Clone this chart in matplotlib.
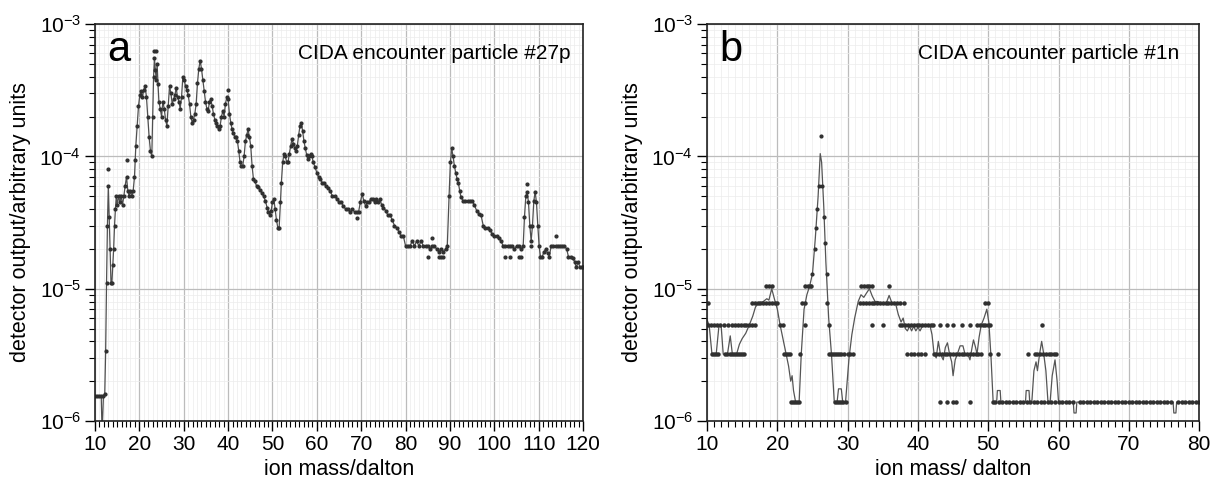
import numpy as np
import matplotlib
matplotlib.use('Agg')
import matplotlib.pyplot as plt
from matplotlib.ticker import MultipleLocator, LogLocator

plt.rcParams['font.family'] = ['Liberation Sans', 'DejaVu Sans']
plt.rcParams['mathtext.default'] = 'regular'
plt.rcParams['axes.unicode_minus'] = False

# ---- panel a : particle #27p (line through samples) ----
mass_a = [10.0, 10.5, 11.0, 11.4, 11.6, 11.9, 12.2, 12.4, 12.6, 12.8, 13.0, 13.2, 13.4, 13.6, 13.8,
          14.0, 14.2, 14.4, 14.6, 14.8, 15.0, 15.3, 15.6, 15.9, 16.2, 16.5, 16.8, 17.1, 17.4, 17.7,
          18.0, 18.3, 18.6, 18.9, 19.2, 19.5, 19.8, 20.1, 20.4, 20.7, 21.0, 21.3, 21.6, 21.9, 22.2,
          22.5, 22.8, 23.0, 23.2, 23.4, 23.6, 23.8, 24.0, 24.2, 24.4, 24.7, 25.0, 25.3, 25.6, 25.9,
          26.2, 26.5, 26.8, 27.1, 27.4, 27.7, 28.0, 28.3, 28.6, 28.9, 29.2, 29.5, 29.8, 30.1, 30.4,
          30.7, 31.0, 31.3, 31.6, 31.9, 32.2, 32.5, 32.8, 33.1, 33.4, 33.7, 34.0, 34.3, 34.6, 34.9,
          35.2, 35.5, 35.8, 36.1, 36.4, 36.7, 37.0, 37.3, 37.6, 37.9, 38.2, 38.5, 38.8, 39.1, 39.4,
          39.7, 40.0, 40.3, 40.6, 40.9, 41.2, 41.5, 41.8, 42.1, 42.4, 42.7, 43.0, 43.3, 43.6, 43.9,
          44.2, 44.5, 44.8, 45.1, 45.4, 45.7, 46.0, 46.4, 46.8, 47.2, 47.6, 48.0, 48.4, 48.8, 49.1,
          49.4, 49.7, 50.0, 50.3, 50.6, 50.9, 51.2, 51.5, 51.8, 52.0, 52.3, 52.6, 52.9, 53.2, 53.5,
          53.8, 54.1, 54.4, 54.7, 55.0, 55.3, 55.6, 55.9, 56.2, 56.5, 56.8, 57.1, 57.4, 57.7, 58.0,
          58.3, 58.6, 58.9, 59.2, 59.6, 60.0, 60.4, 60.8, 61.2, 61.6, 62.0, 62.5, 63.0, 63.5, 64.0,
          64.5, 65.0, 65.5, 66.0, 66.5, 67.0, 67.5, 68.0, 68.5, 69.0, 69.4, 69.8, 70.2, 70.6, 71.0,
          71.4, 71.8, 72.2, 72.6, 73.0, 73.4, 73.8, 74.2, 74.6, 75.0, 75.5, 76.0, 76.5, 77.0, 77.5,
          78.0, 78.5, 79.0, 79.5, 80.0, 80.5, 81.0, 81.5, 82.0, 82.5, 83.0, 83.5, 84.0, 84.5, 85.0,
          85.5, 86.0, 86.5, 87.0, 87.5, 88.0, 88.5, 89.0, 89.4, 89.8, 90.1, 90.4, 90.7, 91.0, 91.3,
          91.6, 91.9, 92.2, 92.5, 93.0, 93.5, 94.0, 94.5, 95.0, 95.5, 96.0, 96.5, 97.0, 97.5, 98.0,
          98.5, 99.0, 99.5, 100.0, 100.5, 101.0, 101.5, 102.0, 102.5, 103.0, 103.5, 104.0, 104.5, 105.0,
          105.5, 106.0, 106.5, 106.8, 107.1, 107.4, 107.7, 108.0, 108.3, 108.6, 108.9, 109.2, 109.5, 109.8,
          110.1, 110.4, 110.8, 111.2, 111.6, 112.0, 112.4, 112.8, 113.3, 113.8, 114.3, 114.8, 115.3, 115.8,
          116.3, 116.7, 117.2, 117.7, 118.1, 118.5, 118.9, 119.3, 119.7, 120.0]
signal_a = [1.55e-6, 1.55e-6, 1.55e-6, 1.55e-6, 8e-7, 1.55e-6, 1.6e-6, 3.4e-6, 1.1e-5, 3.0e-5, 6.0e-5, 3.5e-5, 2.0e-5, 1.1e-5, 1.1e-5,
            1.5e-5, 2.0e-5, 3.0e-5, 4.0e-5, 5.0e-5, 4.3e-5, 5.0e-5, 4.5e-5, 5.0e-5, 4.3e-5, 5.0e-5, 6.0e-5, 7.0e-5, 5.5e-5, 5.0e-5,
            5.5e-5, 5.0e-5, 5.5e-5, 7.0e-5, 1.2e-4, 1.7e-4, 2.4e-4, 2.9e-4, 3.1e-4, 2.8e-4, 3.2e-4, 3.4e-4, 2.8e-4, 2.0e-4, 1.4e-4,
            1.1e-4, 1.0e-4, 2.0e-4, 4.0e-4, 5.5e-4, 4.5e-4, 3.8e-4, 5.0e-4, 3.5e-4, 2.6e-4, 2.3e-4, 2.0e-4, 2.6e-4, 2.3e-4, 1.9e-4,
            1.7e-4, 2.4e-4, 3.4e-4, 3.0e-4, 2.5e-4, 2.7e-4, 2.9e-4, 3.3e-4, 2.8e-4, 2.6e-4, 2.3e-4, 2.8e-4, 4.0e-4, 3.8e-4, 3.4e-4,
            3.2e-4, 2.9e-4, 2.5e-4, 2.0e-4, 1.8e-4, 1.9e-4, 2.1e-4, 2.5e-4, 3.6e-4, 4.6e-4, 5.3e-4, 4.6e-4, 3.8e-4, 3.1e-4, 2.6e-4,
            2.3e-4, 2.2e-4, 2.6e-4, 2.7e-4, 2.4e-4, 2.1e-4, 1.9e-4, 1.8e-4, 1.7e-4, 1.6e-4, 1.7e-4, 2.0e-4, 2.2e-4, 2.0e-4, 2.5e-4,
            2.8e-4, 2.7e-4, 2.1e-4, 1.8e-4, 1.6e-4, 1.5e-4, 1.4e-4, 1.4e-4, 1.3e-4, 1.1e-4, 9.0e-5, 8.5e-5, 8.5e-5, 1.0e-4, 1.3e-4,
            1.45e-4, 1.6e-4, 1.4e-4, 1.2e-4, 8.5e-5, 6.8e-5, 6.5e-5, 6.0e-5, 5.9e-5, 5.6e-5, 5.3e-5, 5.0e-5, 4.6e-5, 4.1e-5, 3.8e-5,
            3.6e-5, 3.9e-5, 4.5e-5, 4.8e-5, 4.0e-5, 3.3e-5, 2.9e-5, 2.9e-5, 4.5e-5, 6.3e-5, 9.0e-5, 1.05e-4, 1.0e-4, 9.0e-5, 9.0e-5,
            1.05e-4, 1.2e-4, 1.35e-4, 1.25e-4, 1.15e-4, 1.1e-4, 1.2e-4, 1.45e-4, 1.7e-4, 1.8e-4, 1.55e-4, 1.3e-4, 1.15e-4, 1.03e-4, 9.5e-5,
            1.0e-4, 1.05e-4, 1.0e-4, 9.0e-5, 8.3e-5, 7.5e-5, 7.0e-5, 6.8e-5, 6.3e-5, 6.3e-5, 6.0e-5, 5.8e-5, 5.5e-5, 5.0e-5, 5.0e-5,
            4.8e-5, 4.5e-5, 4.5e-5, 4.2e-5, 4.0e-5, 4.0e-5, 3.8e-5, 4.0e-5, 3.8e-5, 3.8e-5, 3.8e-5, 4.5e-5, 5.2e-5, 4.6e-5, 4.2e-5,
            4.5e-5, 4.5e-5, 4.8e-5, 4.8e-5, 4.5e-5, 4.8e-5, 4.5e-5, 4.8e-5, 4.3e-5, 4.1e-5, 3.9e-5, 3.6e-5, 3.6e-5, 3.3e-5, 3.0e-5,
            2.9e-5, 2.7e-5, 2.5e-5, 2.5e-5, 2.1e-5, 2.1e-5, 2.1e-5, 2.3e-5, 2.1e-5, 2.3e-5, 2.1e-5, 2.3e-5, 2.1e-5, 2.1e-5, 2.1e-5,
            2.0e-5, 2.1e-5, 2.1e-5, 2.0e-5, 1.9e-5, 2.0e-5, 1.9e-5, 2.0e-5, 2.1e-5, 5.0e-5, 9.0e-5, 1.15e-4, 1.0e-4, 8.5e-5, 7.5e-5,
            6.8e-5, 6.3e-5, 5.5e-5, 4.9e-5, 4.6e-5, 4.6e-5, 4.6e-5, 4.6e-5, 4.6e-5, 4.3e-5, 3.9e-5, 3.7e-5, 3.6e-5, 3.0e-5, 2.9e-5,
            2.9e-5, 2.8e-5, 2.6e-5, 2.5e-5, 2.5e-5, 2.4e-5, 2.3e-5, 2.1e-5, 2.1e-5, 2.1e-5, 2.1e-5, 2.1e-5, 2.0e-5, 2.1e-5,
            2.1e-5, 2.0e-5, 2.1e-5, 3.5e-5, 5.0e-5, 5.4e-5, 4.5e-5, 3.0e-5, 2.3e-5, 3.0e-5, 4.6e-5, 5.4e-5, 4.5e-5, 3.0e-5,
            2.1e-5, 1.75e-5, 1.75e-5, 1.9e-5, 2.0e-5, 1.85e-5, 1.75e-5, 2.1e-5, 2.1e-5, 2.1e-5, 2.1e-5, 2.1e-5, 2.1e-5, 2.1e-5,
            2.0e-5, 1.75e-5, 1.75e-5, 1.7e-5, 1.6e-5, 1.45e-5, 1.6e-5, 1.45e-5, 1.45e-5, 1.45e-5]

# stray samples off the line
extra_mass_a = [13.0, 17.1, 19.0, 23.4, 23.8, 40.0, 69.0, 86.0, 85.0, 87.5, 88.0, 88.5,
                102.5, 103.5, 105.5, 106.0, 107.4, 108.3, 113.9]
extra_sig_a = [8.0e-5, 9.4e-5, 9.4e-5, 6.3e-4, 6.3e-4, 3.2e-4, 3.4e-5, 2.4e-5, 1.75e-5, 1.75e-5, 1.75e-5, 1.75e-5,
               1.75e-5, 1.75e-5, 1.75e-5, 1.75e-5, 6.2e-5, 2.1e-5, 2.5e-5]

# ---- panel b : particle #1n ----
mass_b = [10.0, 10.3, 10.7, 11.3, 11.7, 12.0, 12.3, 12.9, 13.3, 13.6, 14.2, 14.6, 15.0, 15.5, 16.0,
          16.5, 16.9, 17.4, 18.0, 18.5, 18.8, 19.2, 19.6, 20.0, 20.4, 20.8, 21.2, 21.6, 21.9, 22.1,
          22.3, 22.6, 23.1, 23.4, 23.8, 24.2, 24.6, 25.0, 25.4, 25.8, 26.1, 26.3, 26.6, 26.9, 27.3,
          27.7, 28.1, 28.5, 28.7, 29.1, 29.3, 29.7, 30.2, 30.6, 31.0, 31.5, 31.9, 32.3, 32.7, 33.1,
          33.5, 33.9, 34.3, 34.7, 35.1, 35.5, 35.9, 36.3, 36.8, 37.2, 37.6, 37.9, 38.2, 38.5, 38.8,
          39.1, 39.4, 39.7, 40.0, 40.3, 40.7, 41.2, 41.7, 42.0, 42.3, 42.6, 42.9, 43.2, 43.6, 43.9,
          44.2, 44.5, 44.8, 45.0, 45.3, 45.6, 46.0, 46.4, 46.7, 47.1, 47.4, 47.7, 47.9, 48.2, 48.4,
          48.7, 49.0, 49.4, 49.8, 50.1, 50.4, 50.7, 51.2, 51.3, 51.7, 51.8, 55.3, 55.4, 55.8, 55.9,
          56.2, 56.5, 56.8, 57.0, 57.3, 57.6, 57.9, 58.2, 58.5, 58.8, 59.1, 59.5, 59.8, 60.0, 62.1,
          62.2, 62.5, 62.6, 76.3, 76.4, 76.7, 76.8, 80.0]
signal_b = [5.8e-6, 5.3e-6, 3.2e-6, 3.2e-6, 5.3e-6, 5.3e-6, 3.2e-6, 3.2e-6, 4.4e-6, 3.2e-6, 3.2e-6, 3.8e-6, 4.2e-6, 4.6e-6, 5.3e-6,
            6.2e-6, 7.3e-6, 7.8e-6, 8.0e-6, 8.4e-6, 8.2e-6, 1.0e-5, 8.3e-6, 7.0e-6, 5.3e-6, 4.2e-6, 3.3e-6, 2.6e-6, 2.0e-6, 2.2e-6,
            1.7e-6, 1.39e-6, 1.39e-6, 3.2e-6, 7.0e-6, 9.0e-6, 1.05e-5, 1.3e-5, 2.4e-5, 5.0e-5, 1.05e-4, 9.0e-5, 4.2e-5, 1.6e-5, 6.0e-6,
            3.2e-6, 1.39e-6, 1.39e-6, 1.75e-6, 1.75e-6, 1.39e-6, 1.39e-6, 3.0e-6, 4.5e-6, 6.0e-6, 8.0e-6, 9.0e-6, 8.6e-6, 9.3e-6, 1.0e-5,
            8.8e-6, 8.0e-6, 8.0e-6, 7.8e-6, 7.6e-6, 7.8e-6, 8.9e-6, 7.8e-6, 7.8e-6, 6.4e-6, 5.6e-6, 6.0e-6, 5.0e-6, 4.8e-6, 5.2e-6,
            4.8e-6, 5.2e-6, 4.8e-6, 5.1e-6, 4.8e-6, 5.3e-6, 5.3e-6, 5.3e-6, 4.5e-6, 3.2e-6, 3.0e-6, 4.0e-6, 3.2e-6, 2.9e-6, 3.6e-6,
            3.9e-6, 3.2e-6, 2.8e-6, 2.2e-6, 2.9e-6, 3.2e-6, 3.7e-6, 3.7e-6, 3.2e-6, 3.2e-6, 2.9e-6, 3.6e-6, 4.1e-6, 3.6e-6, 3.2e-6,
            4.3e-6, 5.3e-6, 6.0e-6, 7.0e-6, 5.5e-6, 3.0e-6, 1.39e-6, 1.39e-6, 1.7e-6, 1.7e-6, 1.39e-6, 1.39e-6, 1.7e-6, 1.7e-6, 1.39e-6,
            1.39e-6, 2.4e-6, 2.8e-6, 2.4e-6, 3.2e-6, 4.0e-6, 3.2e-6, 2.4e-6, 1.39e-6, 1.39e-6, 2.2e-6, 2.9e-6, 2.0e-6, 1.39e-6, 1.39e-6,
            1.15e-6, 1.15e-6, 1.39e-6, 1.39e-6, 1.15e-6, 1.15e-6, 1.39e-6, 1.39e-6]

# raw samples of panel b, grouped by quantised level
levels_b = [1.05e-5, 7.8e-6, 5.3e-6, 3.2e-6, 1.39e-6]
dots_b = [
    [18.4, 18.8, 19.2, 24.0, 24.4, 24.8, 31.9, 32.3, 32.7, 33.1, 33.5, 35.9],
    [10.2, 16.4, 16.8, 17.2, 17.6, 18.0, 18.4, 18.8, 19.2, 19.6, 20.0, 23.5, 23.9, 27.0, 31.8, 32.2, 32.6,
     33.0, 33.4, 33.8, 34.2, 34.6, 35.0, 35.4, 35.8, 36.2, 36.6, 37.0, 37.4, 38.0, 49.5, 49.9],
    [10.2, 10.6, 11.0, 11.4, 11.8, 12.4, 13.0, 13.6, 14.0, 14.4, 14.8, 15.2, 15.6, 16.0, 16.4, 16.8, 20.4,
     20.8, 24.0, 27.3, 33.4, 35.1, 37.4, 37.8, 38.2, 38.6, 39.0, 39.4, 39.8, 40.2, 40.6, 41.0, 41.4, 41.8,
     42.2, 43.1, 44.1, 45.0, 46.2, 47.4, 48.4, 48.8, 49.2, 49.6, 50.0, 50.3, 57.6],
    [10.7, 11.0, 11.3, 11.6, 12.6, 12.9, 13.2, 13.5, 13.8, 14.1, 14.4, 14.7, 15.0, 15.3, 20.9, 21.2, 21.5,
     21.8, 23.2, 27.3, 27.6, 27.9, 28.2, 28.5, 28.8, 29.1, 29.5, 30.0, 30.4, 30.8, 38.5, 39.0, 39.5, 40.0,
     40.5, 41.0, 42.3, 42.6, 43.0, 43.4, 43.8, 44.2, 44.6, 45.0, 45.4, 45.8, 46.2, 46.6, 47.0, 47.4, 47.8,
     48.2, 48.6, 49.0, 50.3, 51.4, 55.7, 56.6, 57.0, 57.4, 57.8, 58.2, 58.6, 59.0, 59.4, 59.7],
    [21.9, 22.2, 22.5, 22.8, 23.1, 28.2, 28.5, 28.8, 29.1, 29.4, 29.7, 43.1, 44.1, 45.0, 45.4, 47.4,
     50.7, 51.0, 51.5, 52.0, 52.5, 53.0, 53.5, 54.0, 54.5, 55.0, 55.5, 56.0, 56.5, 57.0, 57.5, 58.0,
     58.5, 59.0, 59.5, 60.0, 60.5, 61.0, 61.5, 62.0, 63.0, 63.5, 64.0, 64.5, 65.0, 65.5, 66.0, 66.5,
     67.0, 67.5, 68.0, 68.5, 69.0, 69.5, 70.0, 70.5, 71.0, 71.5, 72.0, 72.5, 73.0, 73.5, 74.0, 74.5,
     75.0, 75.5, 76.0, 77.0, 77.5, 78.0, 78.5, 79.0, 79.5, 80.0],
]
peak_mass_b = [24.6, 25.0, 25.3, 25.5, 25.7, 25.9, 26.2, 26.4, 26.6, 26.8, 27.0]
peak_sig_b = [1.05e-5, 1.3e-5, 2.0e-5, 2.9e-5, 4.0e-5, 6.0e-5, 1.43e-4, 6.0e-5, 3.5e-5, 2.2e-5, 1.3e-5]


def style_axes(ax, xmax):
    ax.set_yscale('log')
    ax.set_ylim(1e-6, 1e-3)
    ax.set_xlim(10, xmax)
    ax.xaxis.set_major_locator(MultipleLocator(10))
    ax.xaxis.set_minor_locator(MultipleLocator(1))
    ax.yaxis.set_major_locator(LogLocator(base=10))
    ax.yaxis.set_minor_locator(LogLocator(base=10, subs=np.arange(2, 10)))
    ax.grid(which='major', color='#bcbcbc', lw=0.9)
    ax.grid(which='minor', color='#ececec', lw=0.5)
    ax.set_axisbelow(True)
    ax.tick_params(which='major', direction='out', length=7, width=1, labelsize=15, pad=3)
    ax.tick_params(which='minor', direction='out', length=4, width=0.8)
    for s in ax.spines.values():
        s.set_linewidth(1.2)
        s.set_color('#222222')
    ax.set_ylabel('detector output/arbitrary units', fontsize=15.5, labelpad=6)


fig = plt.figure(figsize=(12.18, 4.87), dpi=100)
ax1 = fig.add_axes([0.078, 0.1355, 0.4007, 0.815])
ax2 = fig.add_axes([0.5805, 0.1355, 0.404, 0.815])

style_axes(ax1, 120)
ax1.plot(mass_a, signal_a, color='#505050', lw=0.9, marker='o', ms=2.0,
         mfc='#303030', mec='#303030', clip_on=True)
ax1.plot(extra_mass_a, extra_sig_a, ls='none', marker='o', ms=2.0, color='#303030')
ax1.set_xlabel('ion mass/dalton', fontsize=15.5, labelpad=4)
ax1.text(0.025, 0.985, 'a', transform=ax1.transAxes, fontsize=30, va='top', ha='left')
ax1.text(0.975, 0.95, 'CIDA encounter particle #27p', transform=ax1.transAxes,
         fontsize=15, va='top', ha='right')

style_axes(ax2, 80)
ax2.plot(mass_b, signal_b, color='#555555', lw=0.9)
for lev, ms_list in zip(levels_b, dots_b):
    ax2.plot(ms_list, [lev] * len(ms_list), ls='none', marker='o', ms=2.2, color='#303030')
ax2.plot(peak_mass_b, peak_sig_b, ls='none', marker='o', ms=2.0, color='#303030')
ax2.set_xlabel('ion mass/ dalton', fontsize=15.5, labelpad=4)
ax2.text(0.025, 0.985, 'b', transform=ax2.transAxes, fontsize=30, va='top', ha='left')
ax2.text(0.96, 0.95, 'CIDA encounter particle #1n', transform=ax2.transAxes,
         fontsize=15, va='top', ha='right')

fig.savefig('out.png', dpi=100)
